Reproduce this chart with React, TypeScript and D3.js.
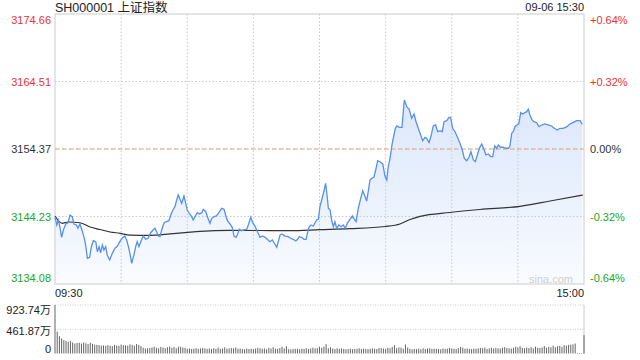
import React from 'react';
import * as d3 from 'd3';

// 上证指数 intraday, 09-06
const preClose = 3154.37;
const leftLabels = ['3174.66', '3164.51', '3154.37', '3144.23', '3134.08'];
const rightLabels = ['+0.64%', '+0.32%', '0.00%', '-0.32%', '-0.64%'];
const volLabels = ['923.74万', '461.87万', '0'];

// minute index from 09:30 (0..240, lunch break removed)
const priceMinutes = [
  0, 0.8, 1.5, 2.3, 3.0, 3.8, 4.9, 5.9, 6.8, 7.8, 8.6, 9.7, 10.4, 11.3, 12.1, 13.2, 13.9, 14.7, 15.7, 16.5,
  17.4, 18.5, 19.2, 20.0, 20.7, 21.5, 22.2, 23.0, 23.7, 24.8, 26.0, 27.2, 28.3, 29.4, 30.5, 31.6, 32.5, 33.3, 34.0, 34.8,
  35.8, 36.6, 37.3, 38.1, 39.2, 40.1, 41.1, 42.2, 43.4, 44.5, 45.4, 46.1, 46.9, 47.6, 48.4, 49.5, 50.5, 51.7, 52.5, 53.5,
  54.4, 55.2, 55.9, 56.7, 57.5, 58.5, 59.3, 60.0, 61.1, 62.0, 62.7, 63.5, 64.6, 65.6, 66.6, 67.3, 68.4, 69.4, 70.3, 71.1,
  72.1, 73.2, 74.4, 75.6, 76.7, 77.4, 78.2, 79.4, 80.4, 81.2, 82.1, 82.7, 83.6, 84.7, 85.7, 87.0, 87.7, 88.8, 89.7, 90.7,
  91.5, 92.2, 93.0, 94.1, 95.3, 96.3, 97.5, 98.6, 99.5, 100.6, 101.3, 102.1, 103.1, 104.3, 105.8, 106.9, 108.1, 109.2, 110.1, 110.8,
  111.9, 113.0, 113.9, 114.5, 115.2, 116.1, 117.2, 118.0, 118.7, 119.5, 120.2, 121.0, 121.7, 122.8, 123.5, 124.0, 124.8, 125.5, 126.3, 127.0,
  127.8, 128.8, 129.8, 130.8, 131.7, 132.6, 133.8, 134.9, 135.8, 136.6, 137.6, 138.7, 139.6, 140.6, 141.4, 142.1, 142.9, 143.7, 144.7, 145.5,
  146.4, 147.4, 148.7, 149.7, 150.5, 151.2, 152.0, 153.0, 154.3, 155.0, 156.2, 157.4, 158.5, 159.6, 160.7, 161.8, 162.9, 163.8, 164.8, 165.9,
  166.8, 167.9, 168.6, 169.7, 170.6, 171.6, 172.7, 173.6, 174.7, 175.7, 176.5, 177.7, 178.8, 179.5, 180.4, 181.5, 182.5, 183.7, 184.8, 185.7,
  186.8, 187.8, 188.7, 189.8, 190.7, 191.6, 192.5, 193.6, 194.6, 195.5, 196.6, 197.7, 198.6, 199.5, 200.4, 201.1, 202.2, 203.4, 204.6, 205.7,
  206.4, 207.2, 207.9, 208.7, 209.5, 210.4, 211.3, 212.2, 213.2, 214.0, 214.7, 215.5, 216.3, 217.3, 218.5, 219.6, 220.8, 222.3, 223.8, 225.3,
  226.5, 227.9, 229.1, 230.6, 232.2, 233.6, 235.2, 236.7, 238.2, 239.2,
];
const prices = [
  3144.20, 3142.95, 3143.70, 3142.50, 3141.10, 3142.20, 3143.10, 3143.29, 3144.45, 3144.20, 3143.10, 3142.95, 3142.45, 3143.10, 3142.30, 3141.10, 3139.94, 3137.94, 3138.09, 3139.69,
  3140.59, 3140.44, 3138.93, 3139.69, 3138.78, 3139.94, 3139.19, 3139.69, 3138.44, 3137.69, 3138.69, 3139.45, 3139.79, 3140.44, 3140.95, 3141.29, 3140.69, 3139.69, 3138.69, 3137.19,
  3138.44, 3139.69, 3140.44, 3139.69, 3140.69, 3141.29, 3140.80, 3140.95, 3141.79, 3142.20, 3142.45, 3141.94, 3141.29, 3141.19, 3142.20, 3143.29, 3143.44, 3143.59, 3144.45, 3145.20,
  3145.70, 3146.70, 3147.46, 3146.81, 3146.21, 3147.31, 3146.21, 3145.20, 3144.60, 3144.20, 3143.70, 3144.20, 3144.80, 3144.60, 3144.80, 3145.31, 3144.95, 3143.95, 3143.20, 3143.95,
  3144.20, 3144.30, 3144.80, 3145.46, 3145.31, 3144.45, 3143.59, 3143.10, 3142.60, 3141.29, 3141.10, 3141.44, 3142.30, 3142.09, 3142.20, 3142.30, 3142.95, 3144.10, 3143.29, 3142.80,
  3142.20, 3141.70, 3141.10, 3141.29, 3141.10, 3140.80, 3140.44, 3140.69, 3140.20, 3139.60, 3140.44, 3141.44, 3141.60, 3141.29, 3141.19, 3140.95, 3140.80, 3140.54, 3140.80, 3141.19,
  3141.10, 3140.80, 3140.80, 3141.70, 3142.60, 3142.95, 3142.80, 3143.29, 3143.70, 3143.80, 3145.70, 3146.70, 3147.61, 3149.21, 3147.20, 3145.46, 3145.20, 3143.70, 3142.69, 3143.44,
  3142.45, 3142.95, 3142.69, 3142.95, 3142.45, 3143.20, 3143.80, 3144.30, 3143.80, 3143.44, 3145.46, 3146.96, 3148.10, 3147.31, 3146.55, 3147.95, 3149.71, 3149.97, 3150.12, 3151.21,
  3152.61, 3152.46, 3152.12, 3150.31, 3149.71, 3151.71, 3152.97, 3155.23, 3157.33, 3157.83, 3157.63, 3157.63, 3161.73, 3160.73, 3160.34, 3158.98, 3159.63, 3158.47, 3157.48, 3156.47,
  3155.62, 3156.13, 3155.98, 3155.32, 3156.32, 3157.83, 3157.98, 3156.97, 3157.12, 3156.97, 3158.47, 3158.62, 3159.13, 3159.13, 3157.48, 3156.97, 3156.22, 3155.23, 3154.22, 3152.97,
  3152.61, 3153.12, 3153.96, 3152.72, 3152.46, 3153.47, 3154.48, 3155.12, 3154.33, 3153.47, 3153.62, 3153.21, 3153.21, 3154.82, 3154.48, 3154.97, 3154.63, 3154.63, 3154.48, 3154.48,
  3154.82, 3156.73, 3156.97, 3157.72, 3157.98, 3158.13, 3159.83, 3159.63, 3159.83, 3159.98, 3160.34, 3159.48, 3158.83, 3158.47, 3158.32, 3157.72, 3157.98, 3158.13, 3157.98, 3157.83,
  3157.48, 3157.23, 3157.48, 3157.48, 3157.72, 3158.13, 3158.38, 3158.62, 3158.62, 3158.08,
];

// average price line
const avgMinutes = [0, 3.2, 5.9, 11.3, 15.9, 20.4, 25.0, 29.5, 34.0, 43.1, 52.2, 59.0, 65.8, 79.4, 93.0, 106.6, 120.2, 133.8, 149.7, 156.5, 161.1, 165.6, 179.2, 192.8, 211.0, 224.6, 239.5];
const avgPrices = [3144.30, 3143.20, 3143.40, 3143.29, 3142.65, 3142.27, 3141.90, 3141.70, 3141.44, 3141.40, 3141.60, 3141.79, 3142.00, 3142.15, 3142.12, 3142.09, 3142.24, 3142.39, 3142.72, 3143.10, 3143.77, 3144.25, 3144.83, 3145.28, 3145.76, 3146.55, 3147.46];

// volume per minute, 万
const volumes = [
  923.74, 415, 331, 287, 255, 242, 223, 236, 210, 191,
  200, 205, 190, 210, 195, 180, 205, 185, 170, 165,
  160, 150, 155, 145, 160, 150, 140, 165, 150, 145,
  170, 160, 155, 150, 175, 165, 150, 180, 165, 140,
  110, 95, 100, 105, 115, 130, 110, 100, 125, 115,
  105, 120, 135, 110, 125, 100, 130, 128, 115, 108,
  90, 95, 85, 92, 100, 88, 95, 105, 98, 90,
  96, 85, 100, 90, 112, 88, 95, 118, 92, 96,
  102, 98, 115, 90, 95, 85, 80, 95, 86, 90,
  85, 95, 108, 100, 90, 95, 80, 110, 96, 120,
  92, 88, 105, 128, 98, 140, 82, 78, 84, 90,
  86, 80, 92, 88, 100, 85, 95, 110, 98, 102, 130,
  110, 130, 178, 100, 120, 95, 85, 100, 90, 98,
  88, 80, 84, 95, 82, 88, 90, 100, 85, 92,
  88, 85, 90, 98, 92, 85, 105, 100, 95, 90,
  110, 100, 125, 160, 100, 118, 110, 92, 172, 115,
  90, 80, 88, 84, 92, 80, 98, 85, 95, 100,
  88, 92, 90, 85, 80, 96, 88, 92, 105, 98,
  90, 85, 100, 125, 110, 92, 96, 90, 85, 92,
  90, 98, 105, 100, 112, 88, 100, 110, 95, 105,
  100, 95, 108, 120, 105, 100, 96, 110, 130, 118,
  140, 110, 100, 115, 105, 120, 98, 130, 110, 108,
  115, 140, 110, 125, 118, 150, 120, 140, 145, 125,
  160, 150, 165, 170, 175, 190,
  4, 4, 4,
  350,
];

const W = 640;
const H = 360;
const FONT = "'Liberation Sans', Arial, 'Noto Sans CJK SC', sans-serif";
const RED = '#ee3333';
const GREEN = '#22a622';

export default function App() {
  const x = d3.scaleLinear().domain([0, 240]).range([55, 584]);
  const y = d3.scaleLinear().domain([3134.08, 3174.66]).range([284, 14]);
  const yVol = d3.scaleLinear().domain([0, 923.74]).range([353.5, 305]);

  const pts = priceMinutes.map((m, i) => [m, prices[i]] as [number, number]);
  const line = d3.line<[number, number]>().x(d => x(d[0])).y(d => y(d[1]));
  const area = d3.area<[number, number]>().x(d => x(d[0])).y0(284).y1(d => y(d[1]));
  const avgPts = avgMinutes.map((m, i) => [m, avgPrices[i]] as [number, number]);
  const avgLine = d3.line<[number, number]>().x(d => x(d[0])).y(d => y(d[1])).curve(d3.curveMonotoneX);

  const levels = leftLabels.map(Number);
  const gridMinutes = d3.range(30, 240, 30);
  const labelColor = (i: number) => (i < 2 ? RED : i === 2 ? '#333' : GREEN);
  const labelY = (i: number) => {
    const v = y(levels[i]);
    if (i === 0) return v + 6;
    if (i === 4) return v - 6;
    return v + 0.5;
  };

  return (
    <svg width={W} height={H} style={{ position: 'absolute', left: 0, top: 0, background: '#fff' }} fontFamily={FONT}>
      <defs>
        <linearGradient id="fillGrad" gradientUnits="userSpaceOnUse" x1="0" y1="100" x2="0" y2="284">
          <stop offset="0" stopColor="#dbe7fb" />
          <stop offset="1" stopColor="#f9fbff" />
        </linearGradient>
      </defs>

      {/* title */}
      <text x={55} y={11.5} fontSize={12.5} fill="#222">SH000001 上证指数</text>
      <text x={584} y={11} fontSize={11} fill="#222" textAnchor="end">09-06 15:30</text>

      {/* area + grid */}
      <path d={area(pts) || ''} fill="url(#fillGrad)" />
      {gridMinutes.map(m => (
        <line key={m} x1={x(m)} x2={x(m)} y1={14} y2={284} stroke="#c8c8c8" strokeDasharray="1.5,2" />
      ))}
      {[1, 3].map(i => (
        <line key={i} x1={55} x2={584} y1={y(levels[i])} y2={y(levels[i])} stroke="#c8c8c8" strokeDasharray="1.5,2" />
      ))}
      <line x1={55} x2={584} y1={y(preClose)} y2={y(preClose)} stroke="#c8c8c8" strokeDasharray="1.5,2" />
      <line x1={55} x2={584} y1={y(preClose)} y2={y(preClose)} stroke="#f0a070" strokeDasharray="4,3" />
      <rect x={55} y={14} width={529} height={270} fill="none" stroke="#cccccc" />

      <text x={573} y={283} fontSize={11} fill="#cfcfcf" textAnchor="end">sina.com</text>

      <path d={avgLine(avgPts) || ''} fill="none" stroke="#333" strokeWidth={1.2} />
      <path d={line(pts) || ''} fill="none" stroke="#5590ee" strokeWidth={1.3} />

      {/* price labels */}
      {leftLabels.map((t, i) => (
        <text key={t} x={51} y={labelY(i)} dy="0.35em" fontSize={11} fill={labelColor(i)} textAnchor="end">{t}</text>
      ))}
      {rightLabels.map((t, i) => (
        <text key={t} x={590} y={labelY(i)} dy="0.35em" fontSize={11} fill={labelColor(i)}>{t}</text>
      ))}

      <text x={55} y={297} fontSize={11} fill="#222">09:30</text>
      <text x={584} y={297} fontSize={11} fill="#222" textAnchor="end">15:00</text>

      {/* volume */}
      {[923.74, 461.87].map(v => (
        <line key={v} x1={55} x2={584} y1={yVol(v)} y2={yVol(v)} stroke="#c8c8c8" strokeDasharray="1,1.5" />
      ))}
      <line x1={584} x2={584} y1={305} y2={354} stroke="#cccccc" />
      {volumes.map((v, i) => (
        <rect key={i} x={x(i) - 0.5} y={yVol(v)} width={1} height={Math.max(353.5 - yVol(v), 0.6)} fill="#666" />
      ))}
      {volLabels.map((t, i) => (
        <text key={t} x={51} y={[310, 331, 349][i]} dy="0.35em" fontSize={11} fill="#222" textAnchor="end">{t}</text>
      ))}
    </svg>
  );
}
